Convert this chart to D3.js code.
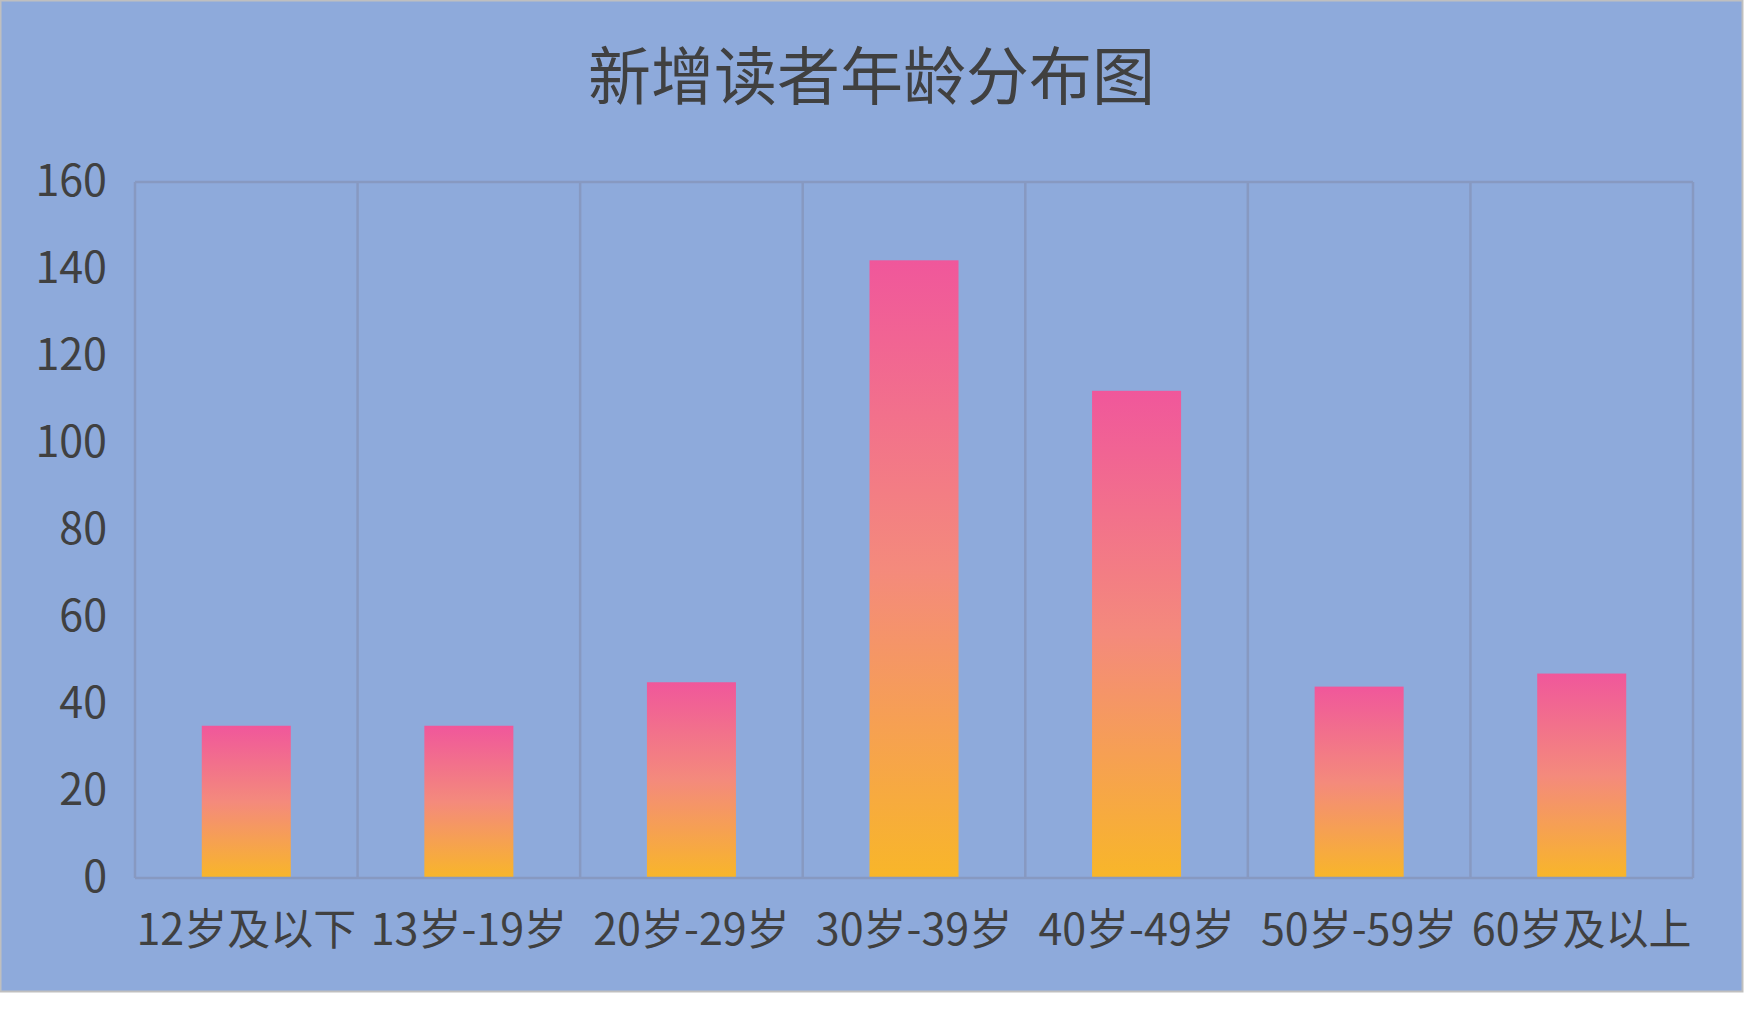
<!DOCTYPE html>
<html lang="zh">
<head>
<meta charset="UTF-8">
<title>新增读者年龄分布图</title>
<script src="https://d3js.org/d3.v7.min.js"></script>
<style>
  body { margin: 0; background: #fff; font-family: "Noto Sans CJK SC", "Noto Sans", sans-serif; }
  .lbl { fill: #404040; font-size: 43px; font-family: "Noto Sans CJK SC", "Noto Sans", sans-serif; }
  .title { fill: #404040; font-size: 63px; font-family: "Noto Sans CJK SC", "Noto Sans", sans-serif; }
</style>
</head>
<body>
<div id="chart"></div>
<script>
// data
const categories = ["12岁及以下", "13岁-19岁", "20岁-29岁", "30岁-39岁", "40岁-49岁", "50岁-59岁", "60岁及以上"];
const values = [35, 35, 45, 142, 112, 44, 47];
const yTicks = [0, 20, 40, 60, 80, 100, 120, 140, 160];
const titleText = "新增读者年龄分布图";

const W = 1746, H = 1023;
const chartW = 1743, chartH = 992;
const plot = { left: 135, right: 1693, top: 182, bottom: 878 };

const svg = d3.select("#chart").append("svg")
    .attr("width", W)
    .attr("height", H);

// chart area background + thin border
svg.append("rect")
    .attr("x", 0.5).attr("y", 0.5)
    .attr("width", chartW - 1).attr("height", chartH - 1)
    .attr("fill", "#8eaadb")
    .attr("stroke", "#bfbfbf")
    .attr("stroke-width", 2);

const grad = svg.append("defs").append("linearGradient")
    .attr("id", "barGrad")
    .attr("x1", 0).attr("y1", 0).attr("x2", 0).attr("y2", 1);
grad.append("stop").attr("offset", "0%").attr("stop-color", "#f0579b");
grad.append("stop").attr("offset", "50%").attr("stop-color", "#f48a7c");
grad.append("stop").attr("offset", "100%").attr("stop-color", "#f8b629");

const x = d3.scaleBand()
    .domain(categories)
    .range([plot.left, plot.right])
    .paddingInner(0)
    .paddingOuter(0);

const y = d3.scaleLinear()
    .domain([0, 160])
    .range([plot.bottom, plot.top]);

const gridColor = "#8799c1";

// vertical dividers between categories
const edges = categories.map(c => x(c)).concat([plot.right]);
svg.append("g").selectAll("line")
    .data(edges)
    .enter().append("line")
    .attr("x1", d => d).attr("x2", d => d)
    .attr("y1", plot.top).attr("y2", plot.bottom)
    .attr("stroke", gridColor)
    .attr("stroke-width", 2.5);

// top line (at 160)
svg.append("line")
    .attr("x1", plot.left).attr("x2", plot.right)
    .attr("y1", y(160)).attr("y2", y(160))
    .attr("stroke", gridColor)
    .attr("stroke-width", 2.5);

// bars
const barW = x.bandwidth() * 0.4;
svg.append("g").selectAll("rect")
    .data(values)
    .enter().append("rect")
    .attr("x", (d, i) => x(categories[i]) + (x.bandwidth() - barW) / 2)
    .attr("y", d => y(d))
    .attr("width", barW)
    .attr("height", d => y(0) - y(d))
    .attr("fill", "url(#barGrad)");

// axis line at 0
svg.append("line")
    .attr("x1", plot.left).attr("x2", plot.right)
    .attr("y1", y(0)).attr("y2", y(0))
    .attr("stroke", gridColor)
    .attr("stroke-width", 2.5);

// y axis labels
const yAxis = svg.append("g")
    .attr("transform", `translate(${plot.left},0)`)
    .call(d3.axisLeft(y).tickValues(yTicks).tickSize(0).tickPadding(28));
yAxis.select(".domain").remove();
yAxis.attr("font-family", null).attr("font-size", null);
yAxis.selectAll("text")
    .attr("class", "lbl")
    .attr("fill", null);

// x axis labels
const xAxis = svg.append("g")
    .attr("transform", `translate(0,${plot.bottom})`)
    .call(d3.axisBottom(x).tickSize(0).tickPadding(36));
xAxis.select(".domain").remove();
xAxis.attr("font-family", null).attr("font-size", null);
xAxis.selectAll("text")
    .attr("class", "lbl")
    .attr("fill", null);

// title
svg.append("text")
    .attr("class", "title")
    .attr("x", chartW / 2)
    .attr("y", 71)
    .attr("text-anchor", "middle")
    .attr("dominant-baseline", "central")
    .text(titleText);
</script>
</body>
</html>
